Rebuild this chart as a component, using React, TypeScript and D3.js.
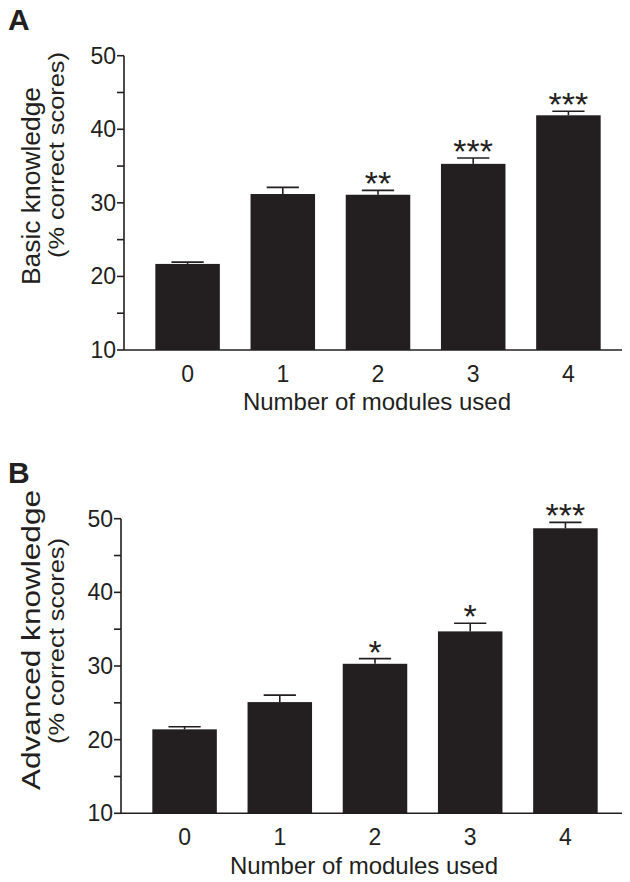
import { useEffect, useRef } from "react";
import * as d3 from "d3";

// data
const modules = ["0", "1", "2", "3", "4"];
const basicMeans = [21.7, 31.2, 31.1, 35.3, 41.9];
const basicSem = [0.25, 0.9, 0.6, 0.8, 0.55];
const basicStars = ["", "", "**", "***", "***"];
const advancedMeans = [21.4, 25.1, 30.3, 34.7, 48.7];
const advancedSem = [0.35, 0.95, 0.7, 1.1, 0.8];
const advancedStars = ["", "", "*", "*", "***"];
const majorTicks = [10, 20, 30, 40, 50];
const minorTicks = [15, 25, 35, 45];
const xTitle = "Number of modules used";
const subTitle = "(% correct scores)";

const FONT = "'Liberation Sans', Arial, Helvetica, sans-serif";
const INK = "#231f20";

function drawPanel(svg, p) {
  const g = svg.append("g");
  const y = d3.scaleLinear().domain([10, 50]).range([p.bottom, p.top]);
  const x = d3
    .scaleBand()
    .domain(modules)
    .range([p.axisX, p.axisX + 508])
    .paddingInner(0.3225)
    .paddingOuter(0.329);

  // panel letter
  g.append("text")
    .attr("x", 8)
    .attr("y", p.letterY)
    .attr("font-family", FONT)
    .attr("font-weight", "bold")
    .attr("font-size", 30)
    .attr("fill", INK)
    .text(p.letter);

  // bars
  g.selectAll("rect.bar")
    .data(p.means)
    .join("rect")
    .attr("class", "bar")
    .attr("x", (d, i) => x(modules[i]))
    .attr("width", x.bandwidth())
    .attr("y", (d) => y(d))
    .attr("height", (d) => y(10) - y(d))
    .attr("fill", INK);

  // upper error bars
  const half = x.bandwidth() / 4;
  p.means.forEach((m, i) => {
    const cx = x(modules[i]) + x.bandwidth() / 2;
    const top = y(m + p.sem[i]);
    g.append("line")
      .attr("x1", cx).attr("x2", cx)
      .attr("y1", y(m)).attr("y2", top)
      .attr("stroke", INK).attr("stroke-width", 1.6);
    g.append("line")
      .attr("x1", cx - half).attr("x2", cx + half)
      .attr("y1", top).attr("y2", top)
      .attr("stroke", INK).attr("stroke-width", 1.6);
    if (p.stars[i]) {
      g.append("text")
        .attr("x", cx)
        .attr("y", top + 5)
        .attr("text-anchor", "middle")
        .attr("font-family", FONT)
        .attr("font-size", 34)
        .attr("fill", INK)
        .text(p.stars[i]);
    }
  });

  // y axis
  g.append("line")
    .attr("x1", p.axisX).attr("x2", p.axisX)
    .attr("y1", y(50)).attr("y2", y(10))
    .attr("stroke", INK).attr("stroke-width", 1.6);
  g.selectAll("line.tick")
    .data(majorTicks.concat(minorTicks))
    .join("line")
    .attr("class", "tick")
    .attr("x1", p.axisX - 7).attr("x2", p.axisX)
    .attr("y1", (d) => y(d)).attr("y2", (d) => y(d))
    .attr("stroke", INK).attr("stroke-width", 1.6);
  g.selectAll("text.ytick")
    .data(majorTicks)
    .join("text")
    .attr("class", "ytick")
    .attr("x", p.axisX - 8)
    .attr("y", (d) => y(d) + 8)
    .attr("text-anchor", "end")
    .attr("font-family", FONT)
    .attr("font-size", 23)
    .attr("fill", INK)
    .text((d) => d);

  // x axis
  g.append("line")
    .attr("x1", p.axisX).attr("x2", 622)
    .attr("y1", y(10)).attr("y2", y(10))
    .attr("stroke", INK).attr("stroke-width", 1.6);
  g.selectAll("text.xtick")
    .data(modules)
    .join("text")
    .attr("class", "xtick")
    .attr("x", (d) => x(d) + x.bandwidth() / 2)
    .attr("y", y(10) + 32)
    .attr("text-anchor", "middle")
    .attr("font-family", FONT)
    .attr("font-size", 23)
    .attr("fill", INK)
    .text((d) => d);
  g.append("text")
    .attr("x", p.xTitleX)
    .attr("y", p.xTitleY)
    .attr("text-anchor", "middle")
    .attr("font-family", FONT)
    .attr("font-size", 24)
    .attr("fill", INK)
    .text(xTitle);

  // y titles
  g.append("text")
    .attr("transform", `translate(40,${p.titleMid}) rotate(-90)`)
    .attr("text-anchor", "middle")
    .attr("font-family", FONT)
    .attr("font-size", 26)
    .attr("textLength", p.titleLen)
    .attr("lengthAdjust", "spacingAndGlyphs")
    .attr("fill", INK)
    .text(p.title);
  g.append("text")
    .attr("transform", `translate(64,${p.subMid}) rotate(-90)`)
    .attr("text-anchor", "middle")
    .attr("font-family", FONT)
    .attr("font-size", 22)
    .attr("textLength", 206)
    .attr("lengthAdjust", "spacingAndGlyphs")
    .attr("fill", INK)
    .text(subTitle);
}

function App() {
  const ref = useRef(null);

  useEffect(() => {
    document.body.style.margin = "0";
    const svg = d3.select(ref.current);
    svg.selectAll("*").remove();

    drawPanel(svg, {
      letter: "A",
      letterY: 30,
      axisX: 124,
      top: 55.7,
      bottom: 350,
      means: basicMeans,
      sem: basicSem,
      stars: basicStars,
      title: "Basic knowledge",
      titleMid: 186,
      titleLen: 198,
      subMid: 155,
      xTitleX: 377,
      xTitleY: 410,
    });
    drawPanel(svg, {
      letter: "B",
      letterY: 483,
      axisX: 121,
      top: 518.7,
      bottom: 813.3,
      means: advancedMeans,
      sem: advancedSem,
      stars: advancedStars,
      title: "Advanced knowledge",
      titleMid: 640,
      titleLen: 300,
      subMid: 641,
      xTitleX: 364,
      xTitleY: 874,
    });
  }, []);

  return (
    <svg ref={ref} width={630} height={882} style={{ display: "block", background: "#fff" }}></svg>
  );
}

export default App;
